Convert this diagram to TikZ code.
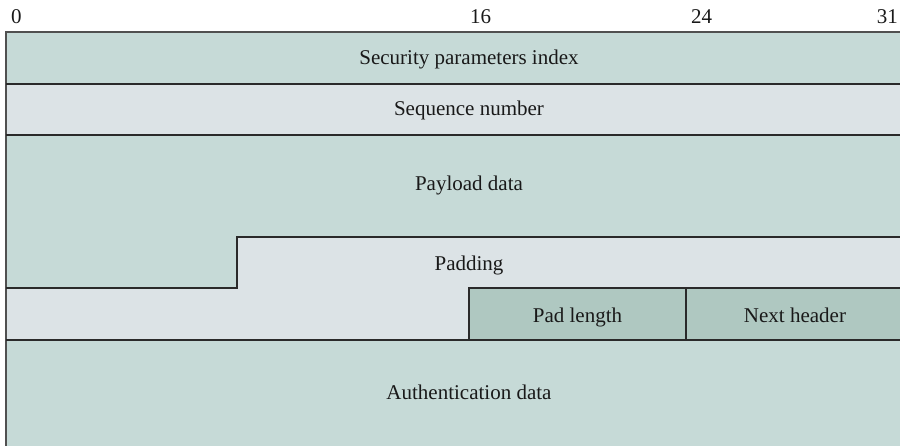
\documentclass[tikz,border=0pt]{standalone}
\usepackage{fontspec}
\setmainfont{Liberation Serif}
\definecolor{darkfill}{HTML}{C6DAD7}
\definecolor{lightfill}{HTML}{DCE3E6}
\definecolor{boxfill}{HTML}{AFC8C1}
\definecolor{rule}{HTML}{2A2A2A}
\definecolor{frameline}{HTML}{505050}
\tikzset{
  fieldtext/.style={anchor=base, inner sep=0pt, font=\fontsize{21}{25}\selectfont, text=black!90},
  bitlabel/.style={anchor=base west, inner sep=0pt, font=\fontsize{21}{25}\selectfont, text=black!90},
  inner/.style={draw=rule, line width=1.4pt},
  outer/.style={draw=frameline, line width=1.4pt},
}
\begin{document}
\begin{tikzpicture}[x=1pt,y=-1pt]
\useasboundingbox (0,0) rectangle (900,445);
% fills
\fill[darkfill] (6,32) rectangle (910,84);
\fill[lightfill] (6,84) rectangle (910,135);
\fill[darkfill] (6,135) -- (910,135) -- (910,237) -- (237,237) -- (237,288) -- (6,288) -- cycle;
\fill[lightfill] (237,237) -- (910,237) -- (910,288) -- (469,288) -- (469,340) -- (6,340) -- (6,288) -- (237,288) -- cycle;
\fill[boxfill] (469,288) rectangle (686,340);
\fill[boxfill] (686,288) rectangle (910,340);
\fill[darkfill] (6,340) rectangle (910,455);
% lines
\draw[outer] (910,32) -- (6,32) -- (6,455);
\draw[inner] (6,84) -- (910,84);
\draw[inner] (6,135) -- (910,135);
\draw[inner] (6,288) -- (237,288) -- (237,237) -- (910,237);
\draw[inner] (6,340) -- (910,340);
\draw[inner] (469,340) -- (469,288) -- (910,288);
\draw[inner] (686,288) -- (686,340);
% bit labels
\node[bitlabel] (b0) at (11,23) {0};
\node[bitlabel] (b16) at (470,23) {16};
\node[bitlabel] (b24) at (691,23) {24};
\node[bitlabel, anchor=base east] (b31) at (898,23) {31};
% field texts
\node[fieldtext] (spi) at (469,64) {Security parameters index};
\node[fieldtext] (seq) at (469,115) {Sequence number};
\node[fieldtext] (pay) at (469,190) {Payload data};
\node[fieldtext] (pad) at (469,270) {Padding};
\node[fieldtext] (padlen) at (577.5,322) {Pad length};
\node[fieldtext] (next) at (795,322) {Next header};
\node[fieldtext] (auth) at (469,399) {Authentication data};
\end{tikzpicture}
\end{document}
